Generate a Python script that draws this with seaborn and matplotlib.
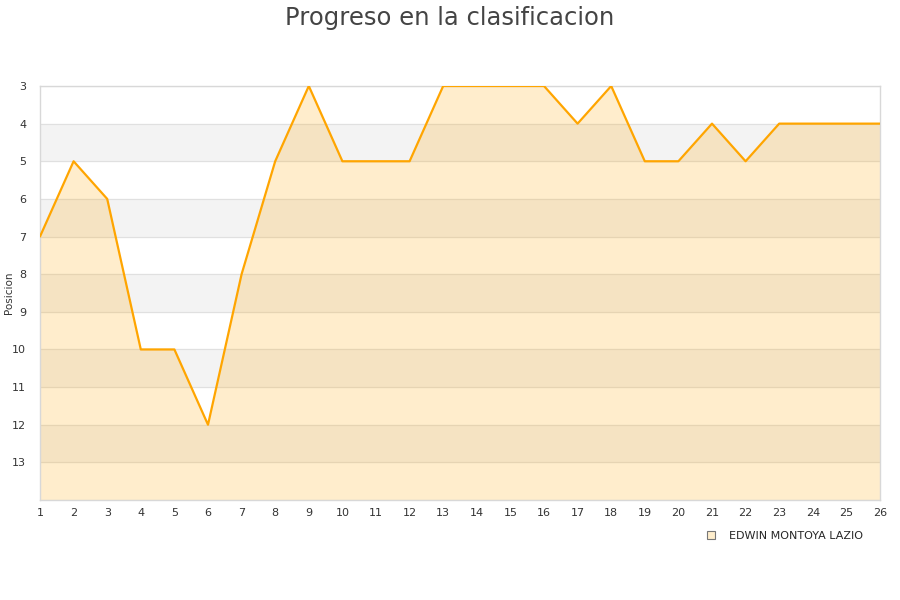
import numpy as np
import pandas as pd
import seaborn as sns
import matplotlib.pyplot as plt

# datos de la clasificacion por jornada
jornadas = list(range(1, 27))
posiciones = [7, 5, 6, 10, 10, 12, 8, 5, 3, 5, 5, 5, 3, 3, 3, 3, 4, 3, 5, 5, 4, 5, 4, 4, 4, 4]
jugador = 'EDWIN MONTOYA LAZIO'

df = pd.DataFrame({'Jornada': jornadas, 'Posicion': posiciones})

sns.set_style('white')
plt.rcParams['font.family'] = ['DejaVu Sans']

fig = plt.figure(figsize=(9, 6), dpi=100)
ax = fig.add_axes([40 / 900, 1 - 500 / 600, 840 / 900, 414 / 600])

# bandas alternas
for y in range(4, 14, 2):
    ax.axhspan(y, y + 1, color='#f3f3f3', zorder=0)
for y in range(3, 15):
    ax.axhline(y, color='#e0e0e0', lw=0.8, zorder=1)

ax.fill_between(df['Jornada'], df['Posicion'], 14, color='#ffa500', alpha=0.2, lw=0, zorder=2)
sns.lineplot(data=df, x='Jornada', y='Posicion', ax=ax, color='#ffa500', lw=1.6, zorder=3)

ax.set_xlim(1, 26)
ax.set_ylim(14, 3)
ax.set_xticks(jornadas)
ax.set_yticks(range(3, 14))
ax.tick_params(axis='both', labelsize=8, colors='#333333', length=0)
ax.tick_params(axis='x', pad=6)
ax.tick_params(axis='y', pad=10)
ax.set_xlabel('')
ax.set_ylabel('Posicion', fontsize=7.5, color='#333333')
ax.yaxis.set_label_coords(-0.031, 0.5)
for s in ax.spines.values():
    s.set_color('#d8d8d8')
    s.set_linewidth(1)

fig.suptitle('Progreso en la clasificacion', fontsize=17.5, color='#444444', y=0.99)

h = plt.Line2D([], [], marker='s', ls='', markersize=6, markerfacecolor='#ffeecc',
               markeredgecolor='#777777', markeredgewidth=0.8)
fig.legend([h], [jugador], loc='center right', bbox_to_anchor=(0.97, 1 - 536 / 600),
           frameon=False, fontsize=8, handletextpad=0.6)

fig.savefig('out.png', dpi=100)
